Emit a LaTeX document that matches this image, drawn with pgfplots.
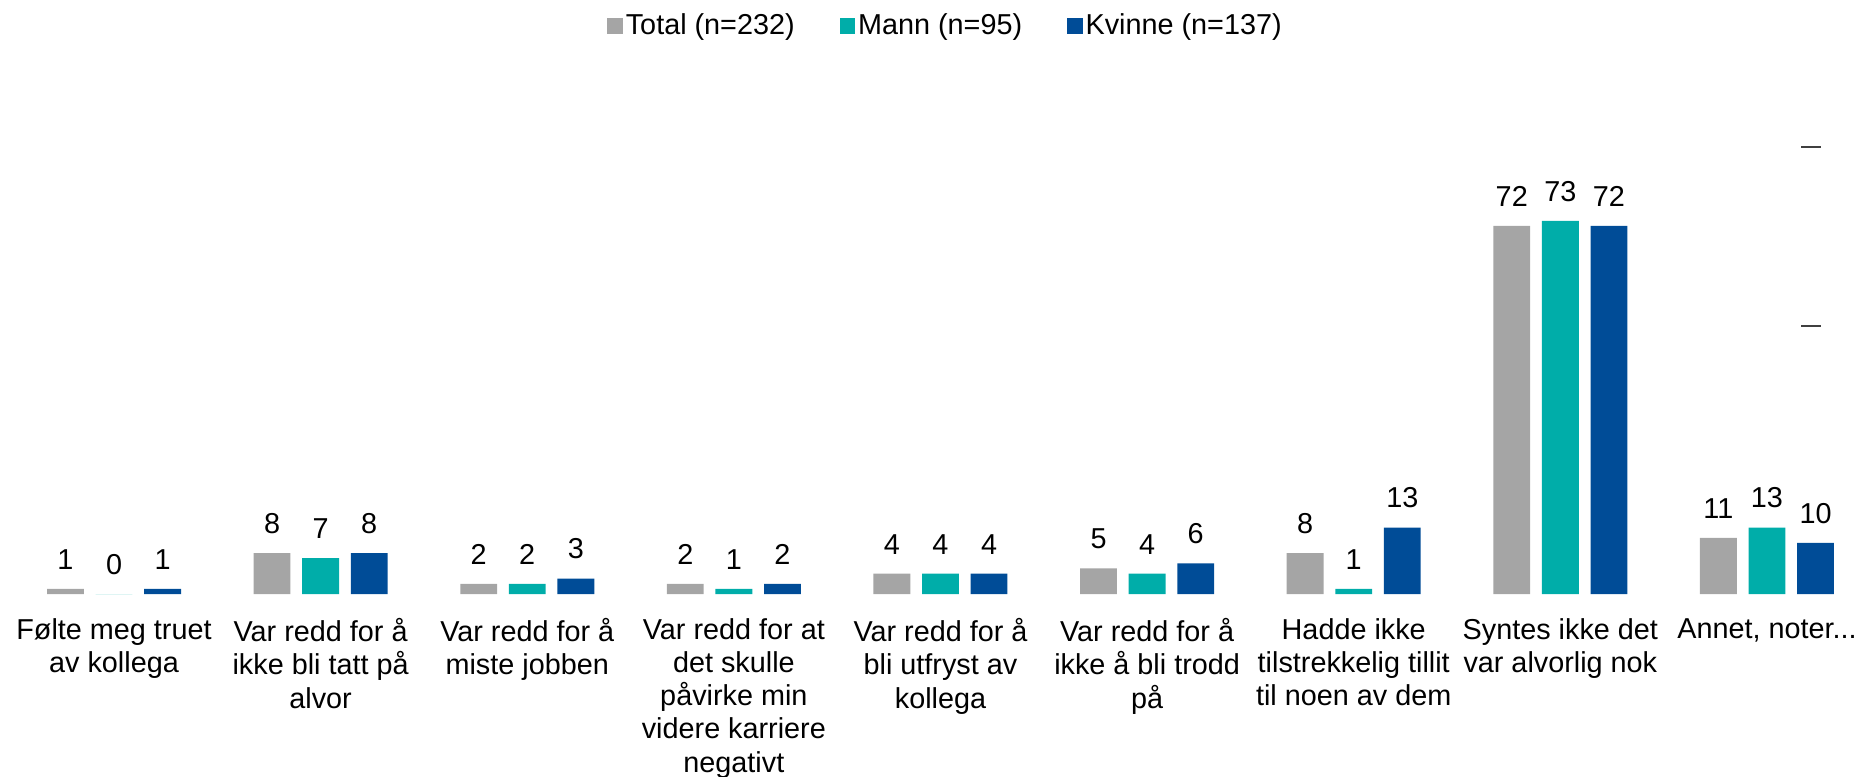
\documentclass[border=0pt]{standalone}
\usepackage{fontspec}
\setmainfont{Liberation Sans}
\usepackage{pgfplots}
\pgfplotsset{compat=1.18}
\definecolor{cgray}{HTML}{A5A5A5}
\definecolor{cteal}{HTML}{00ADA9}
\definecolor{cblue}{HTML}{004C97}
\definecolor{cdash}{HTML}{404040}
\newcommand\lf{\fontsize{14.4}{16.6}\selectfont}
\begin{document}
\begin{tikzpicture}
\begin{axis}[
  at={(5.35pt,91.5pt)}, anchor=south west,
  scale only axis, width=929.8pt, height=255.6pt,
  xmin=-0.5, xmax=8.5, ymin=0, ymax=100,
  ybar=5.9pt, bar width=18.4pt,
  axis line style={draw=none},
  ytick=\empty,
  xtick={0,1,2,3,4,5,6,7,8},
  xticklabels={{Følte meg truet\\av kollega},{Var redd for å\\ikke bli tatt på\\alvor},{Var redd for å\\miste jobben},{Var redd for at\\det skulle\\påvirke min\\videre karriere\\negativt},{Var redd for å\\bli utfryst av\\kollega},{Var redd for å\\ikke å bli trodd\\på},{Hadde ikke\\tilstrekkelig tillit\\til noen av dem},{Syntes ikke det\\var alvorlig nok},{Annet, noter{.}{.}{.}}},
  major tick length=0pt,
  xtick style={draw=none},
  xticklabel style={font=\lf, align=center, anchor=north, inner sep=0pt, yshift=-12pt},
  /pgf/number format/assume math mode=true,
  nodes near coords,
  every node near coord/.append style={font=\lf, anchor=south, inner sep=0pt, yshift=9.5pt, color=black},
  clip=false,
  legend columns=3,
  legend style={draw=none, fill=none, at={(0.503,1.111)}, anchor=center, font=\lf,
    /tikz/every even column/.append style={column sep=21pt},
    nodes={inner sep=1.5pt}},
  legend image code/.code={\fill[#1] (0pt,-3.85pt) rectangle (7.7pt,3.85pt);},
]
\addplot[fill=cgray, draw=none] coordinates {(0,1) (1,8) (2,2) (3,2) (4,4) (5,5) (6,8) (7,72) (8,11)};
\addplot[fill=cteal, draw=none] coordinates {(0,0) (1,7) (2,2) (3,1) (4,4) (5,4) (6,1) (7,73) (8,13)};
\addplot[fill=cblue, draw=none] coordinates {(0,1) (1,8) (2,3) (3,2) (4,4) (5,6) (6,13) (7,72) (8,10)};
\legend{Total (n=232),Mann (n=95),Kvinne (n=137)}
\draw[cdash, line width=1.2pt] ([xshift=-5pt]axis cs:8.214,87.46) -- ([xshift=5pt]axis cs:8.214,87.46);
\draw[cdash, line width=1.2pt] ([xshift=-5pt]axis cs:8.214,52.4) -- ([xshift=5pt]axis cs:8.214,52.4);
\end{axis}
\pgfresetboundingbox
\useasboundingbox (0,0) rectangle (930pt,388.5pt);
\end{tikzpicture}
\end{document}
